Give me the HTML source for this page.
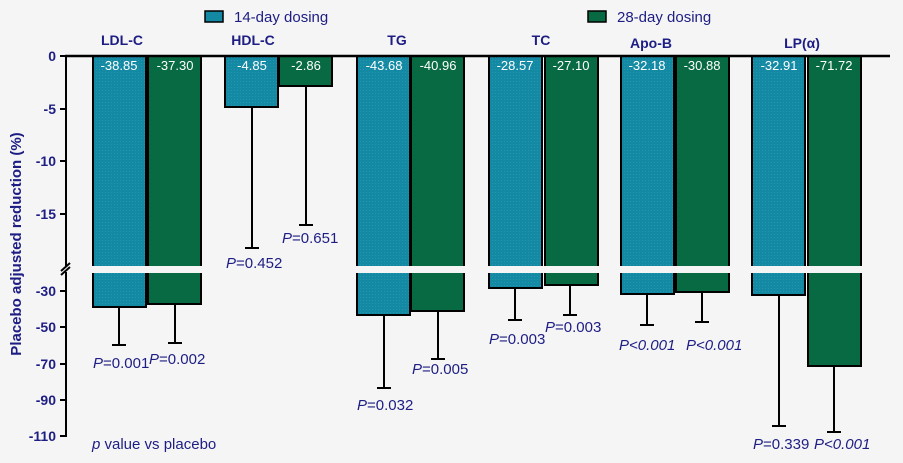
<!DOCTYPE html>
<html><head><meta charset="utf-8"><style>
html,body{margin:0;padding:0;background:#f5f5f5;}
svg{display:block;font-family:"Liberation Sans",Arial,sans-serif;}
.t{fill:#1d1d84;}
.v{fill:#fff;font-size:13px;text-anchor:middle;}
.p{fill:#1d1d84;font-size:15px;}
.h{fill:#1d1d84;font-size:14px;font-weight:bold;text-anchor:middle;}
.yl{fill:#1d1d84;font-size:14px;font-weight:bold;text-anchor:end;}
</style></head><body>
<svg width="903" height="463" viewBox="0 0 903 463">
<defs>
<pattern id="tp" width="3" height="3" patternUnits="userSpaceOnUse"><rect width="3" height="3" fill="#1489a3"/><rect width="1" height="1" fill="#2596ad"/></pattern>
</defs>
<rect width="903" height="463" fill="#f5f5f5"/>
<rect x="205" y="11" width="18" height="11" fill="#1489a3" stroke="#000" stroke-width="1.5"/>
<text x="234" y="22" class="t" font-size="15">14-day dosing</text>
<rect x="588" y="11" width="18" height="11" fill="#086a43" stroke="#000" stroke-width="1.5"/>
<text x="617" y="22" class="t" font-size="15">28-day dosing</text>
<text x="122" y="45" class="h">LDL-C</text>
<text x="253" y="45" class="h">HDL-C</text>
<text x="397" y="45" class="h">TG</text>
<text x="541" y="45" class="h">TC</text>
<text x="651" y="48" class="h">Apo-B</text>
<text x="802" y="48" class="h">LP(α)</text>
<g stroke="#000" stroke-width="2">
<rect x="93" y="56" width="53" height="251" fill="url(#tp)"/>
<rect x="148" y="56" width="53" height="248" fill="#086a43"/>
<rect x="225" y="56" width="53" height="51" fill="url(#tp)"/>
<rect x="279" y="56" width="53" height="30" fill="#086a43"/>
<rect x="357" y="56" width="53" height="259" fill="url(#tp)"/>
<rect x="411" y="56" width="53" height="255" fill="#086a43"/>
<rect x="489" y="56" width="53" height="232" fill="url(#tp)"/>
<rect x="545" y="56" width="53" height="229" fill="#086a43"/>
<rect x="621" y="56" width="53" height="238" fill="url(#tp)"/>
<rect x="676" y="56" width="53" height="236" fill="#086a43"/>
<rect x="752" y="56" width="53" height="239" fill="url(#tp)"/>
<rect x="808" y="56" width="53" height="310" fill="#086a43"/>
</g>
<rect x="90" y="266" width="800" height="7" fill="#f5f5f5"/>
<g stroke="#000" stroke-width="2">
<line x1="119" y1="307" x2="119" y2="345"/><line x1="112" y1="345" x2="126" y2="345"/>
<line x1="175" y1="304" x2="175" y2="343"/><line x1="168" y1="343" x2="182" y2="343"/>
<line x1="252" y1="107" x2="252" y2="248"/><line x1="245" y1="248" x2="259" y2="248"/>
<line x1="306" y1="86" x2="306" y2="225"/><line x1="299" y1="225" x2="313" y2="225"/>
<line x1="384" y1="315" x2="384" y2="388"/><line x1="377" y1="388" x2="391" y2="388"/>
<line x1="438" y1="311" x2="438" y2="359"/><line x1="431" y1="359" x2="445" y2="359"/>
<line x1="515" y1="288" x2="515" y2="320"/><line x1="508" y1="320" x2="522" y2="320"/>
<line x1="570" y1="285" x2="570" y2="315"/><line x1="563" y1="315" x2="577" y2="315"/>
<line x1="647" y1="294" x2="647" y2="325"/><line x1="640" y1="325" x2="654" y2="325"/>
<line x1="702" y1="292" x2="702" y2="322"/><line x1="695" y1="322" x2="709" y2="322"/>
<line x1="779" y1="295" x2="779" y2="426"/><line x1="772" y1="426" x2="786" y2="426"/>
<line x1="834" y1="366" x2="834" y2="432"/><line x1="827" y1="432" x2="841" y2="432"/>
</g>
<line x1="65" y1="56" x2="890" y2="56" stroke="#000" stroke-width="2.5"/>
<line x1="66" y1="56" x2="66" y2="266" stroke="#000" stroke-width="2"/>
<line x1="66" y1="272" x2="66" y2="437" stroke="#000" stroke-width="2"/>
<line x1="61" y1="271" x2="70" y2="263" stroke="#000" stroke-width="2"/>
<line x1="61" y1="275" x2="70" y2="267" stroke="#000" stroke-width="2"/>
<g stroke="#000" stroke-width="2">
<line x1="60" y1="56" x2="66" y2="56"/><line x1="60" y1="109" x2="66" y2="109"/><line x1="60" y1="161" x2="66" y2="161"/><line x1="60" y1="214" x2="66" y2="214"/>
<line x1="60" y1="291" x2="66" y2="291"/><line x1="60" y1="327" x2="66" y2="327"/><line x1="60" y1="364" x2="66" y2="364"/><line x1="60" y1="400" x2="66" y2="400"/><line x1="60" y1="436" x2="66" y2="436"/>
</g>
<text x="56" y="61" class="yl">0</text>
<text x="56" y="114" class="yl">-5</text>
<text x="56" y="166" class="yl">-10</text>
<text x="56" y="219" class="yl">-15</text>
<text x="56" y="296" class="yl">-30</text>
<text x="56" y="332" class="yl">-50</text>
<text x="56" y="369" class="yl">-70</text>
<text x="56" y="405" class="yl">-90</text>
<text x="56" y="441" class="yl">-110</text>
<text transform="translate(21,244) rotate(-90)" text-anchor="middle" class="t" font-size="15" font-weight="bold">Placebo adjusted reduction (%)</text>
<text x="119" y="70" class="v">-38.85</text>
<text x="175" y="70" class="v">-37.30</text>
<text x="252" y="70" class="v">-4.85</text>
<text x="306" y="70" class="v">-2.86</text>
<text x="384" y="70" class="v">-43.68</text>
<text x="438" y="70" class="v">-40.96</text>
<text x="515" y="70" class="v">-28.57</text>
<text x="571" y="70" class="v">-27.10</text>
<text x="647" y="70" class="v">-32.18</text>
<text x="702" y="70" class="v">-30.88</text>
<text x="779" y="70" class="v">-32.91</text>
<text x="834" y="70" class="v">-71.72</text>
<text x="93" y="368" class="p"><tspan font-style="italic">P</tspan>=0.001</text>
<text x="149" y="364" class="p"><tspan font-style="italic">P</tspan>=0.002</text>
<text x="226" y="268" class="p"><tspan font-style="italic">P</tspan>=0.452</text>
<text x="282" y="243" class="p"><tspan font-style="italic">P</tspan>=0.651</text>
<text x="357" y="410" class="p"><tspan font-style="italic">P</tspan>=0.032</text>
<text x="412" y="374" class="p"><tspan font-style="italic">P</tspan>=0.005</text>
<text x="489" y="344" class="p"><tspan font-style="italic">P</tspan>=0.003</text>
<text x="545" y="332" class="p"><tspan font-style="italic">P</tspan>=0.003</text>
<text x="619" y="350" class="p" font-style="italic">P&lt;0.001</text>
<text x="686" y="350" class="p" font-style="italic">P&lt;0.001</text>
<text x="753" y="449" class="p"><tspan font-style="italic">P</tspan>=0.339</text>
<text x="814" y="449" class="p" font-style="italic">P&lt;0.001</text>
<text x="92" y="449" class="p"><tspan font-style="italic">p</tspan> value vs placebo</text>
</svg>
</body></html>
